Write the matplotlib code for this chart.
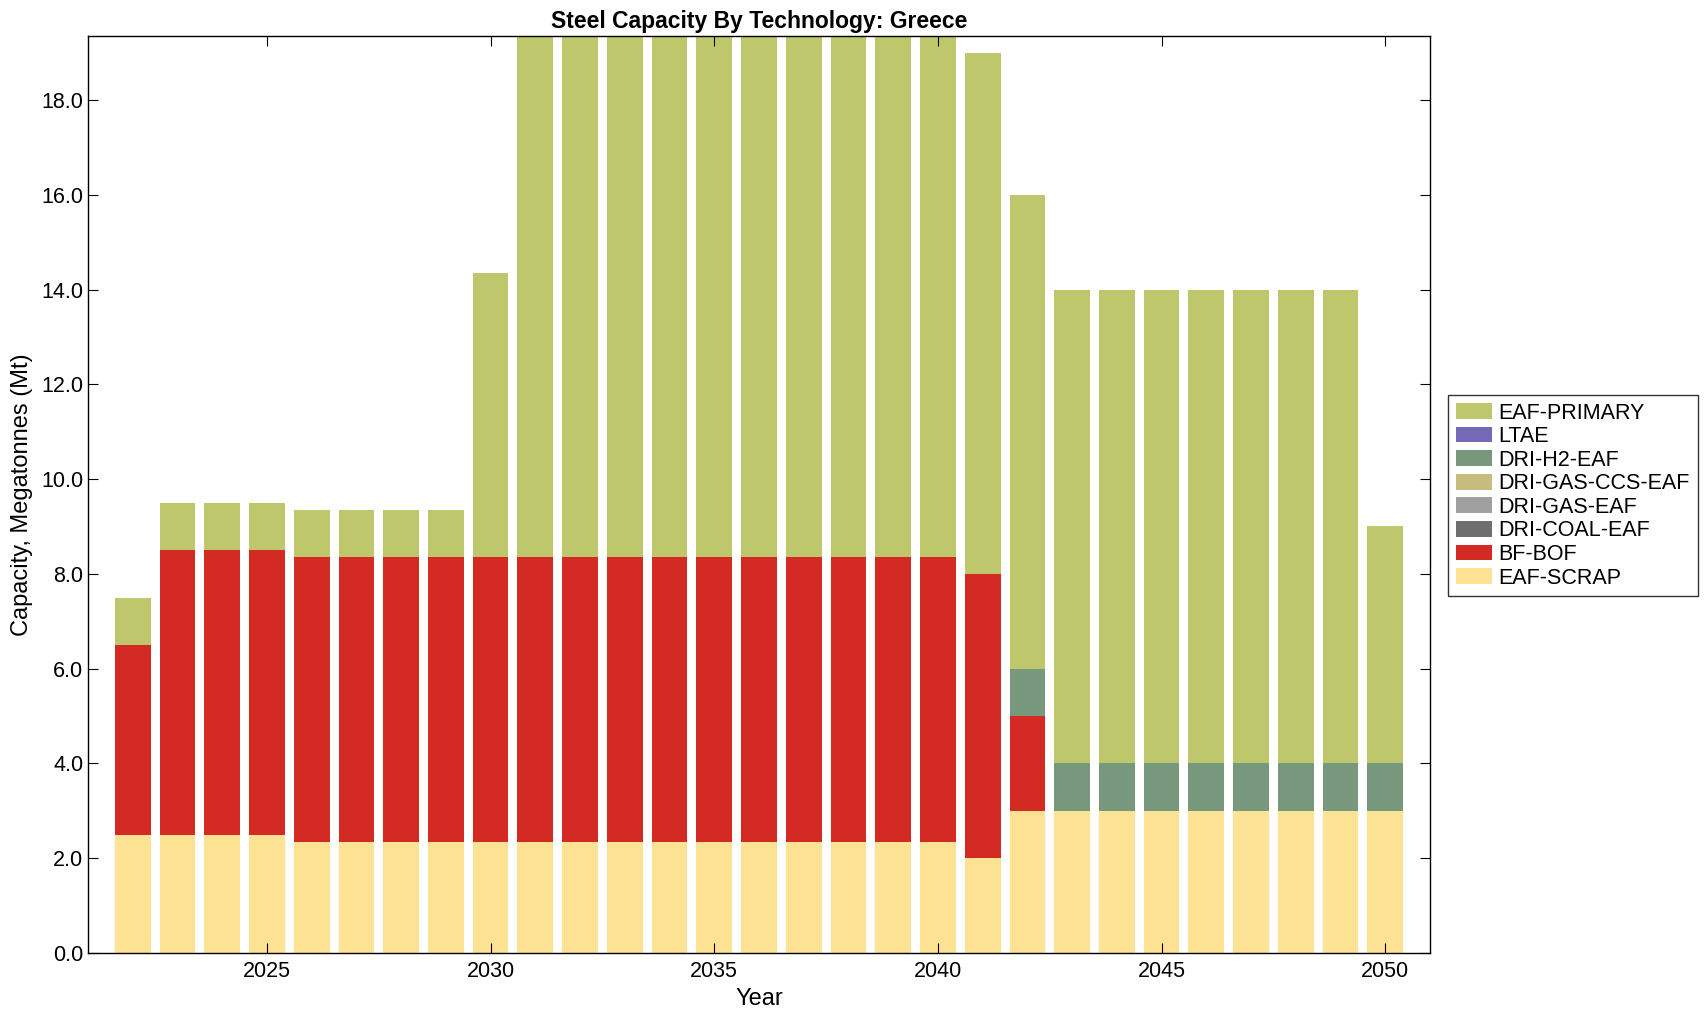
import numpy as np
import matplotlib
matplotlib.use("Agg")
import matplotlib.pyplot as plt
from matplotlib.ticker import FormatStrFormatter

plt.rcParams['font.family'] = ['Liberation Sans', 'DejaVu Sans']

# Datos de capacidad (Mt) por tecnologia
years = np.arange(2022, 2051)
eaf_scrap = [2.5, 2.5, 2.5, 2.5] + [2.35] * 15 + [2.0] + [3.0] * 9
bf_bof = [4.0, 6.0, 6.0, 6.0] + [6.0] * 15 + [6.0, 2.0] + [0.0] * 8
dri_coal_eaf = [0.0] * 29
dri_gas_eaf = [0.0] * 29
dri_gas_ccs_eaf = [0.0] * 29
dri_h2_eaf = [0.0] * 20 + [1.0] * 9
ltae = [0.0] * 29
eaf_primary = [1.0] * 8 + [6.0] + [11.0] * 10 + [11.0, 10.0] + [10.0] * 7 + [5.0]

series = [
    ('EAF-SCRAP', eaf_scrap, '#FDE294'),
    ('BF-BOF', bf_bof, '#D32A24'),
    ('DRI-COAL-EAF', dri_coal_eaf, '#6E6E6E'),
    ('DRI-GAS-EAF', dri_gas_eaf, '#A0A0A0'),
    ('DRI-GAS-CCS-EAF', dri_gas_ccs_eaf, '#C5BC7D'),
    ('DRI-H2-EAF', dri_h2_eaf, '#77987D'),
    ('LTAE', ltae, '#7369B7'),
    ('EAF-PRIMARY', eaf_primary, '#BEC76B'),
]

fig = plt.figure(figsize=(17.08, 10.21), dpi=100)
ax = fig.add_axes([88 / 1708, 1 - 953 / 1021, (1430 - 88) / 1708, (953 - 36) / 1021])

bottom = np.zeros(len(years))
handles = []
for name, vals, col in series:
    vals = np.array(vals)
    h = ax.bar(years, vals, width=0.8, bottom=bottom, color=col, label=name,
               edgecolor='none')
    handles.append(h)
    bottom += vals

ax.set_xlim(2021, 2051)
ax.set_ylim(0, bottom.max())
ax.set_xticks([2025, 2030, 2035, 2040, 2045, 2050])
ax.set_yticks(np.arange(0, 19, 2))
ax.yaxis.set_major_formatter(FormatStrFormatter('%.1f'))
ax.tick_params(direction='in', top=True, right=True, length=7, labelsize=15.5)
ax.tick_params(axis='x', pad=6)
for s in ax.spines.values():
    s.set_linewidth(1.0)

ax.set_title('Steel Capacity By Technology: Greece', fontsize=16.5, fontweight='bold', pad=6)
ax.set_xlabel('Year', fontsize=17, labelpad=4)
ax.set_ylabel('Capacity, Megatonnes (Mt)', fontsize=17, labelpad=6)

leg = fig.legend(handles[::-1], [s[0] for s in series][::-1],
                 loc='upper left', bbox_to_anchor=(1448 / 1708, 1 - 395 / 1021),
                 fontsize=15.5, frameon=True, fancybox=False, edgecolor='black',
                 handlelength=1.7, handleheight=0.75, handletextpad=0.3,
                 borderaxespad=0, borderpad=0.35, labelspacing=0.12)
leg.get_frame().set_linewidth(1.0)

fig.savefig('out.png', dpi=100)
